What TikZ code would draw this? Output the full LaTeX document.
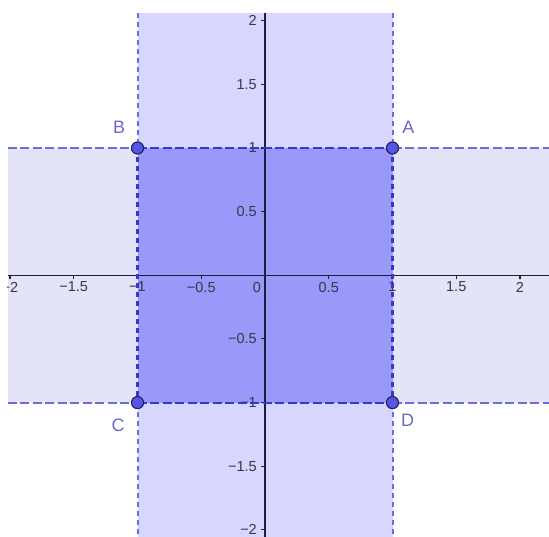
\documentclass[tikz,border=0pt]{standalone}
\usepackage{fontspec}
\setmainfont{Liberation Sans}
\definecolor{vband}{RGB}{214,214,255}
\definecolor{hband}{RGB}{228,228,248}
\definecolor{sqfill}{RGB}{153,153,250}
\definecolor{bandline}{RGB}{108,108,218}
\definecolor{sqline}{RGB}{55,55,205}
\definecolor{axiscol}{RGB}{30,30,60}
\definecolor{tickcol}{RGB}{55,55,70}
\definecolor{ptfill}{RGB}{85,85,230}
\definecolor{ptdraw}{RGB}{30,30,90}
\definecolor{lettercol}{RGB}{105,105,205}
\tikzset{
  vline/.style={bandline, line width=2pt, dash pattern=on 5pt off 4pt},
  hline/.style={bandline, line width=2pt, dash pattern=on 9pt off 3.5pt},
  sqedge/.style={sqline, line width=2.1pt, dash pattern=on 9pt off 3.5pt},
  sqvedge/.style={sqline, line width=2.1pt, dash pattern=on 5pt off 4pt},
  axisline/.style={axiscol, line width=1.3pt},
  tickline/.style={axiscol, line width=1.1pt},
  xlab/.style={tickcol, font=\fontsize{14.5}{16}\selectfont, inner sep=0pt, anchor=north},
  ylab/.style={tickcol, font=\fontsize{14.5}{16}\selectfont, inner sep=0pt, anchor=east},
  ptdot/.style={circle, fill=ptfill, draw=ptdraw, line width=0.9pt, minimum size=12pt, inner sep=0pt},
  ptlabel/.style={lettercol, font=\fontsize{18}{20}\selectfont, inner sep=0pt}
}
\begin{document}
\begin{tikzpicture}
\useasboundingbox (0,0) rectangle (549pt,-537pt);
\begin{scope}[shift={(265pt,-275.3pt)}, x=127.5pt, y=127.3pt]
  \def\vl{-2.0157} \def\vr{2.2275} \def\vt{2.0605} \def\vb{-2.0558}
  \clip (\vl,\vb) rectangle (\vr,\vt);
  % fills
  \fill[hband] (\vl,-1) rectangle (\vr,1);
  \fill[vband] (-1,\vb) rectangle (1,\vt);
  \fill[sqfill] (-1,-1) rectangle (1,1);
  % axes
  \coordinate (xl) at (\vl,0); \coordinate (xr) at (\vr,0);
  \coordinate (yt) at (0,\vt); \coordinate (yb) at (0,\vb);
  \draw[axisline] (xl) -- (xr);
  \draw[axisline] (yb) -- (yt);
  \foreach \t/\s in {-2/{−2},-1.5/{−1.5},-1/{−1},-0.5/{−0.5},0.5/{0.5},1/{1},1.5/{1.5},2/{2}}{
    \draw[tickline] (\t,0) -- ++(0,-4pt);
    \node[xlab] at ([yshift=-6.5pt]\t,0) {\s};
  }
  \node[xlab] (o) at ([xshift=-8pt,yshift=-6.5pt]0,0) {0};
  \foreach \t/\s in {-2/{−2},-1.5/{−1.5},-1/{−1},-0.5/{−0.5},0.5/{0.5},1/{1},1.5/{1.5},2/{2}}{
    \draw[tickline] (0,\t) -- ++(-4pt,0);
    \node[ylab] at ([xshift=-8pt]0,\t) {\s};
  }
  % points
  \node[ptdot] (A) at (1,1) {};
  \node[ptdot] (B) at (-1,1) {};
  \node[ptdot] (C) at (-1,-1) {};
  \node[ptdot] (D) at (1,-1) {};
  % band boundary lines
  \coordinate (vtl) at (-1,\vt); \coordinate (vbl) at (-1,\vb);
  \coordinate (vtr) at (1,\vt);  \coordinate (vbr) at (1,\vb);
  \coordinate (hlt) at (\vl,1);  \coordinate (hrt) at (\vr,1);
  \coordinate (hlb) at (\vl,-1); \coordinate (hrb) at (\vr,-1);
  \draw[vline] (vtl) -- (B.center); \draw[vline] (C.center) -- (vbl);
  \draw[vline] (vtr) -- (A.center); \draw[vline] (D.center) -- (vbr);
  \draw[hline] (hlt) -- (B.center); \draw[hline] (A.center) -- (hrt);
  \draw[hline] (hlb) -- (C.center); \draw[hline] (D.center) -- (hrb);
  % square edges
  \draw[sqedge] (B.center) -- (A.center);
  \draw[sqedge] (C.center) -- (D.center);
  \draw[sqvedge] (B.center) -- (C.center);
  \draw[sqvedge] (A.center) -- (D.center);
  % redraw points on top
  \node[ptdot] at (A) {};
  \node[ptdot] at (B) {};
  \node[ptdot] at (C) {};
  \node[ptdot] at (D) {};
  % labels
  \node[ptlabel] (lA) at (1.125,1.161) {A};
  \node[ptlabel] (lB) at (-1.145,1.165) {B};
  \node[ptlabel] (lC) at (-1.151,-1.176) {C};
  \node[ptlabel] (lD) at (1.118,-1.137) {D};
\end{scope}
\end{tikzpicture}
\end{document}
